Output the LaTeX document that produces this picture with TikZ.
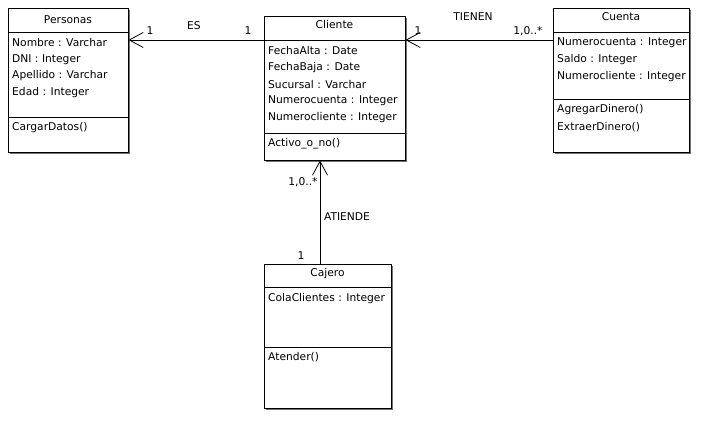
\documentclass[tikz,border=0pt]{standalone}
\usepackage{fontspec}
\setmainfont{DejaVu Sans}
\usetikzlibrary{arrows.meta}
\begin{document}
\begin{tikzpicture}[x=1pt,y=-1pt,
  font=\fontsize{10.7}{12}\selectfont,
  umlbox/.style={draw, line width=0.8pt, fill=white, inner sep=0pt,
    preaction={fill=black!55, transform canvas={shift={(2pt,-2pt)}}}},
  sep/.style={line width=0.8pt},
  attr/.style={anchor=west, inner sep=0pt},
  ttl/.style={anchor=center, inner sep=0pt},
  lbl/.style={anchor=center, inner sep=0pt},
  assoc/.style={line width=0.8pt, -{Straight Barb[length=14pt,width=15pt,line width=0.8pt]}}]
\useasboundingbox (0,0) rectangle (719,438);
\fill[white] (0,0) rectangle (719,438);

% Personas
\node[umlbox, minimum width=120pt, minimum height=144pt] (pers) at (68,80) {};
\draw[sep] (8,32) -- (128,32);
\draw[sep] (8,117) -- (128,117);
\node[ttl] (persT) at (68,20) {Personas};
\node[attr] (p1) at (12,43) {Nombre : Varchar};
\node[attr] (p2) at (12,60) {DNI : Integer};
\node[attr] (p3) at (12,76) {Apellido : Varchar};
\node[attr] (p4) at (12,93) {Edad : Integer};
\node[attr] (pm1) at (12,128) {CargarDatos()};

% Cliente
\node[umlbox, minimum width=141pt, minimum height=144pt] (cli) at (334.5,88) {};
\draw[sep] (264,40) -- (405,40);
\draw[sep] (264,133) -- (405,133);
\node[ttl] (cliT) at (334.5,25) {Cliente};
\node[attr] (c1) at (268,51) {FechaAlta : Date};
\node[attr] (c2) at (268,68) {FechaBaja : Date};
\node[attr] (c3) at (268,85) {Sucursal : Varchar};
\node[attr] (c4) at (268,101) {Numerocuenta : Integer};
\node[attr] (c5) at (268,118) {Numerocliente : Integer};
\node[attr] (cm1) at (268,144) {Activo\_o\_no()};

% Cuenta
\node[umlbox, minimum width=136pt, minimum height=144pt] (cta) at (621,80) {};
\draw[sep] (553,32) -- (689,32);
\draw[sep] (553,99) -- (689,99);
\node[ttl] (ctaT) at (621,17) {Cuenta};
\node[attr] (u1) at (557,43) {Numerocuenta : Integer};
\node[attr] (u2) at (557,60) {Saldo : Integer};
\node[attr] (u3) at (557,77) {Numerocliente : Integer};
\node[attr] (um1) at (557,110) {AgregarDinero()};
\node[attr] (um2) at (557,127) {ExtraerDinero()};

% Cajero
\node[umlbox, minimum width=127pt, minimum height=144pt] (caj) at (327.5,336) {};
\draw[sep] (264,287) -- (391,287);
\draw[sep] (264,347) -- (391,347);
\node[ttl] (cajT) at (327.5,274) {Cajero};
\node[attr] (j1) at (268,299) {ColaClientes : Integer};
\node[attr] (jm1) at (268,357) {Atender()};

% connectors
\coordinate (hy) at (0,40);
\coordinate (vx) at (320,0);
\draw[assoc] (cli.west |- hy) -- (pers.east |- hy);
\draw[assoc] (cta.west |- hy) -- (cli.east |- hy);
\draw[assoc] (caj.north -| vx) -- (cli.south -| vx);

% labels
\node[lbl] (l1) at (150,31) {1};
\node[lbl] (l2) at (194,26) {ES};
\node[lbl] (l3) at (248,31) {1};
\node[lbl] (l4) at (418,31) {1};
\node[lbl] (l5) at (473,17) {TIENEN};
\node[lbl] (l6) at (528,31) {1,0..*};
\node[lbl] (l7) at (303,182) {1,0..*};
\node[lbl] (l8) at (347,217) {ATIENDE};
\node[lbl] (l9) at (301,256) {1};
\end{tikzpicture}
\end{document}
